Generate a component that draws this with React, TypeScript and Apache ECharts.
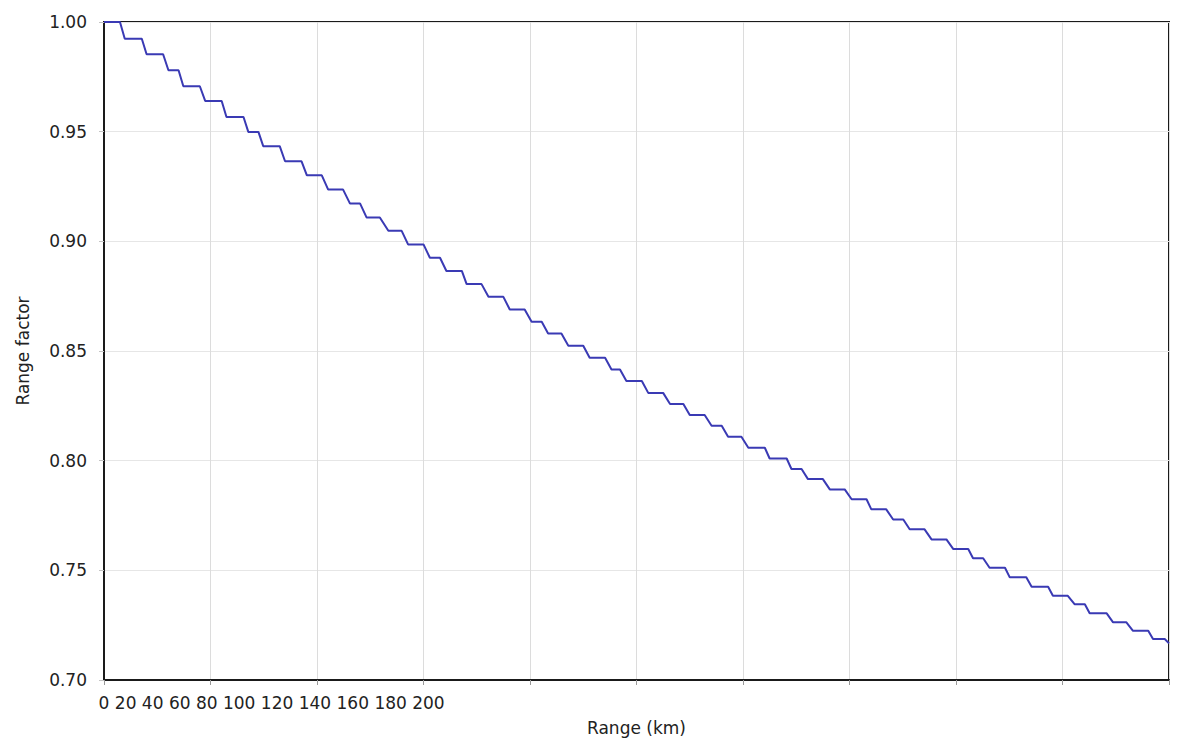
import React, { useEffect, useRef } from 'react';
import * as echarts from 'echarts';

// x axis tick labels (km) — in the source they run together at the left
const xTickLabels = ['0', '20', '40', '60', '80', '100', '120', '140', '160', '180', '200'];

// one value per plateau of the staircase
const rangeFactor = [
  1.0, 0.9924, 0.9853, 0.978, 0.9707, 0.964, 0.9567, 0.9499, 0.9434, 0.9365,
  0.9301, 0.9236, 0.9172, 0.9109, 0.9048, 0.8986, 0.8925, 0.8865, 0.8805, 0.8747,
  0.8689, 0.8633, 0.858, 0.8524, 0.8469, 0.8416, 0.8363, 0.8309, 0.8258, 0.8208,
  0.8159, 0.8109, 0.8059, 0.801, 0.7962, 0.7916, 0.7869, 0.7824, 0.7778, 0.7732,
  0.7687, 0.7641, 0.7597, 0.7555, 0.7512, 0.7468, 0.7425, 0.7384, 0.7345, 0.7304,
  0.7263, 0.7225, 0.7187, 0.7167,
];

// where each plateau starts / ends (km)
const plateauStart = [
  0, 3.9, 8.0, 12.1, 14.9, 19.0, 23.0, 27.1, 29.9, 34.0,
  38.1, 42.1, 46.2, 49.3, 53.4, 57.1, 61.2, 64.3, 68.1, 72.2,
  76.2, 80.3, 83.4, 87.2, 91.2, 95.3, 98.1, 102.2, 106.3, 110.0,
  114.1, 117.2, 121.0, 125.0, 129.1, 132.2, 136.3, 140.4, 144.1, 148.2,
  151.3, 155.4, 159.5, 163.2, 166.3, 170.1, 174.2, 178.2, 182.3, 185.1,
  189.5, 193.2, 197.0, 200,
];
const plateauEnd = [
  3.0, 7.1, 11.1, 14.0, 18.0, 22.1, 26.2, 29.0, 33.0, 37.1,
  40.9, 44.9, 48.1, 51.8, 55.9, 60.0, 63.1, 67.2, 70.9, 75.0,
  79.0, 82.2, 85.9, 90.0, 94.1, 96.9, 101.0, 105.0, 108.8, 112.8,
  116.0, 119.7, 124.1, 128.2, 131.0, 135.0, 139.1, 143.2, 146.9, 150.1,
  154.1, 158.2, 162.3, 165.1, 169.2, 173.2, 177.3, 181.0, 184.2, 188.3,
  192.0, 196.1, 199.2, 200,
];

const FONT = 'DejaVu Sans';

const App: React.FC = () => {
  const chartRef = useRef<HTMLDivElement>(null);

  useEffect(() => {
    if (!chartRef.current) return;
    const chart = echarts.init(chartRef.current, undefined, { renderer: 'svg' });

    const points: [number, number][] = [];
    rangeFactor.forEach((v, i) => {
      points.push([plateauStart[i], v]);
      points.push([plateauEnd[i], v]);
    });

    chart.setOption({
      animation: false,
      backgroundColor: '#fff',
      textStyle: { fontFamily: FONT },
      grid: {
        left: 104,
        right: 10,
        top: 22,
        bottom: 65,
        show: true,
        borderColor: '#1a1a1a',
        borderWidth: 2,
        backgroundColor: 'transparent',
      },
      xAxis: {
        type: 'value',
        min: 0,
        max: 200,
        interval: 20,
        name: 'Range (km)',
        nameLocation: 'middle',
        nameGap: 39,
        nameTextStyle: { fontSize: 17, color: '#222', fontFamily: FONT },
        axisLine: { show: true, onZero: false, lineStyle: { color: '#1a1a1a', width: 2 } },
        axisTick: { show: true, length: 5, lineStyle: { color: '#999' } },
        axisLabel: {
          customValues: [0],
          margin: 14,
          align: 'left',
          padding: [0, 0, 0, -5.4],
          fontSize: 17,
          color: '#222',
          fontFamily: FONT,
          formatter: () => xTickLabels.join(' '),
        },
        splitLine: { show: true, lineStyle: { color: '#dcdcdc', width: 1 } },
      },
      yAxis: {
        type: 'value',
        min: 0.7,
        max: 1.0,
        interval: 0.05,
        name: 'Range factor',
        nameLocation: 'middle',
        nameGap: 73,
        nameTextStyle: { fontSize: 17, color: '#222', fontFamily: FONT },
        axisLine: { show: true, lineStyle: { color: '#1a1a1a', width: 2 } },
        axisTick: { show: true, length: 5, lineStyle: { color: '#c4c4c4' } },
        axisLabel: {
          margin: 17,
          fontSize: 17,
          color: '#222',
          fontFamily: FONT,
          formatter: (v: number) => v.toFixed(2),
        },
        splitLine: { show: true, lineStyle: { color: '#e6e6e6', width: 1 } },
      },
      series: [
        {
          type: 'line',
          data: points,
          showSymbol: false,
          symbol: 'none',
          lineStyle: { color: '#3a3ab4', width: 2 },
          clip: false,
        },
      ],
    });

    return () => chart.dispose();
  }, []);

  return (
    <div
      ref={chartRef}
      style={{ position: 'fixed', left: 0, top: 0, width: 1179, height: 745, background: '#fff' }}
    />
  );
};

export default App;
